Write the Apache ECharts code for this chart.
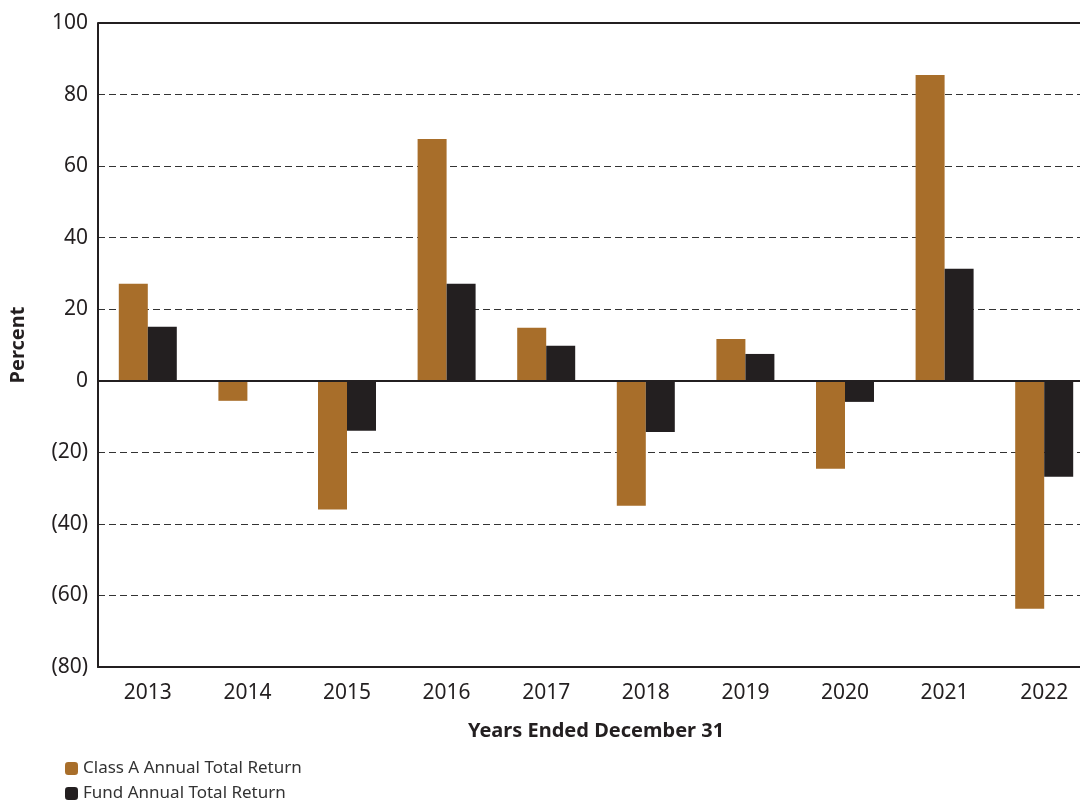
<!DOCTYPE html>
<html><head><meta charset="utf-8">
<script src="https://cdn.jsdelivr.net/npm/echarts@6/dist/echarts.min.js"></script>
<style>html,body{margin:0;padding:0;background:#fff;overflow:hidden;width:1080px;height:800px}#c{width:1094px;height:800px}</style>
</head><body><div id="c"></div>
<script>
var years = ['2013','2014','2015','2016','2017','2018','2019','2020','2021','2022'];
var classA = [27.1, -5.6, -36.0, 67.6, 14.8, -34.9, 11.7, -24.6, 85.5, -63.7];
var fund = [15.1, 0, -14.0, 27.1, 9.8, -14.3, 7.5, -5.9, 31.3, -26.8];
var seriesNames = ['Class A Annual Total Return', 'Fund Annual Total Return'];
var colors = ['#A86E2A', '#231F20'];
var font = 'Noto Sans';
function legendFor(name, top) {
  return {
    orient: 'horizontal', left: 65, top: top, padding: 0, itemWidth: 13, itemHeight: 13,
    textStyle: {fontFamily: font, fontSize: 17, color: '#333'},
    data: [name]
  };
}
var chart = echarts.init(document.getElementById('c'));
chart.setOption({
  animation: false,
  color: colors,
  textStyle: {fontFamily: font},
  grid: {left: 97, right: 0, top: 23, bottom: 133, containLabel: false},
  legend: [legendFor(seriesNames[0], 760), legendFor(seriesNames[1], 785)],
  xAxis: {
    type: 'category', data: years,
    name: 'Years Ended December 31', nameLocation: 'middle', nameGap: 54,
    nameTextStyle: {fontFamily: font, fontSize: 20, fontWeight: 'bold', color: '#231F20'},
    axisLine: {onZero: false, lineStyle: {color: '#231F20', width: 2}},
    axisTick: {show: false},
    axisLabel: {fontFamily: font, fontSize: 21, color: '#231F20', margin: 16}
  },
  yAxis: {
    type: 'value', min: -80, max: 100, interval: 20,
    name: 'Percent', nameLocation: 'middle', nameGap: 70, nameRotate: 90,
    nameTextStyle: {fontFamily: font, fontSize: 20, fontWeight: 'bold', color: '#231F20'},
    axisLine: {show: true, lineStyle: {color: '#231F20', width: 2}},
    axisTick: {show: false},
    axisLabel: {fontFamily: font, fontSize: 21, color: '#231F20', margin: 10,
      formatter: function (v) { return v < 0 ? '(' + (-v) + ')' : String(v); }},
    splitLine: {show: true, lineStyle: {color: '#333', type: [7, 4], width: 1}}
  },
  series: [
    {name: seriesNames[0], type: 'bar', data: classA, barWidth: 29, barGap: '0%',
     itemStyle: {color: colors[0]},
     markLine: {silent: true, symbol: 'none', label: {show: false},
       lineStyle: {color: '#231F20', type: 'solid', width: 2},
       data: [{yAxis: 0}, {yAxis: 100}]}},
    {name: seriesNames[1], type: 'bar', data: fund, barWidth: 29, barGap: '0%',
     itemStyle: {color: colors[1]}}
  ]
});
</script></body></html>
